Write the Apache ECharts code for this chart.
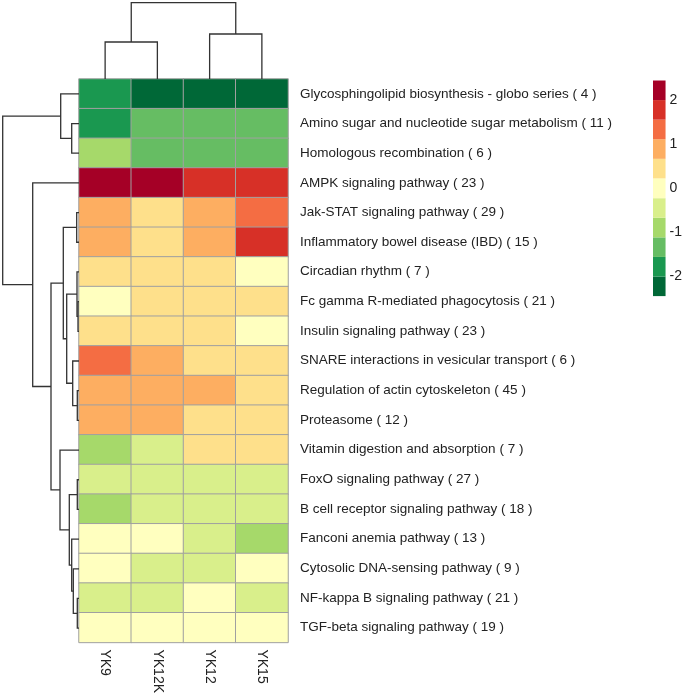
<!DOCTYPE html>
<html>
<head>
<meta charset="utf-8">
<script src="https://cdn.jsdelivr.net/npm/echarts@6/dist/echarts.min.js"></script>
<style>
  html, body { margin: 0; padding: 0; background: #fff; }
  #chart { width: 685px; height: 696px; }
</style>
</head>
<body>
<div id="chart"></div>
<script>
// 样本（列）与通路（行）
const samples = ["YK9", "YK12K", "YK12", "YK15"];
const pathways = [
  "Glycosphingolipid biosynthesis - globo series ( 4 )",
  "Amino sugar and nucleotide sugar metabolism ( 11 )",
  "Homologous recombination ( 6 )",
  "AMPK signaling pathway ( 23 )",
  "Jak-STAT signaling pathway ( 29 )",
  "Inflammatory bowel disease (IBD) ( 15 )",
  "Circadian rhythm ( 7 )",
  "Fc gamma R-mediated phagocytosis ( 21 )",
  "Insulin signaling pathway ( 23 )",
  "SNARE interactions in vesicular transport ( 6 )",
  "Regulation of actin cytoskeleton ( 45 )",
  "Proteasome ( 12 )",
  "Vitamin digestion and absorption ( 7 )",
  "FoxO signaling pathway ( 27 )",
  "B cell receptor signaling pathway ( 18 )",
  "Fanconi anemia pathway ( 13 )",
  "Cytosolic DNA-sensing pathway ( 9 )",
  "NF-kappa B signaling pathway ( 21 )",
  "TGF-beta signaling pathway ( 19 )"
];

// 每行数值：YK9, YK12K, YK12, YK15
const values = [
  [-1.8, -2.3, -2.3, -2.3],
  [-1.9, -1.3, -1.3, -1.3],
  [-0.9, -1.3, -1.3, -1.3],
  [2.3, 2.3, 1.8, 1.8],
  [0.9, 0.4, 0.9, 1.4],
  [0.9, 0.4, 0.9, 1.8],
  [0.4, 0.4, 0.4, 0.1],
  [0.1, 0.4, 0.4, 0.4],
  [0.4, 0.4, 0.4, 0.1],
  [1.4, 0.9, 0.4, 0.4],
  [0.9, 0.9, 0.9, 0.4],
  [0.9, 0.9, 0.4, 0.4],
  [-0.9, -0.5, 0.4, 0.4],
  [-0.5, -0.5, -0.5, -0.5],
  [-0.9, -0.5, -0.5, -0.5],
  [0, 0, -0.5, -0.9],
  [0, -0.5, -0.5, 0],
  [-0.5, -0.5, 0, -0.5],
  [0, 0, 0, 0]
];

// 色标分段
const breaks = [-2.45, -2.005, -1.56, -1.115, -0.67, -0.225, 0.225, 0.67, 1.115, 1.56, 2.005, 2.45];
const colors = ["#006837", "#1a9850", "#66bd63", "#a6d96a", "#d9ef8b", "#ffffbf",
                "#fee08b", "#fdae61", "#f46d43", "#d73027", "#a50026"];
const legendTicks = [-2, -1, 0, 1, 2];

// 聚类树：[子节点a, 子节点b, 高度]，叶子为 0..n-1，合并节点为 n+k
const rowMerges = [
  [1, 2, 7.3], [0, 19, 18.3], [4, 5, 2.3], [7, 8, 1.0], [6, 22, 2.0],
  [10, 11, 1.7], [9, 24, 6.3], [23, 25, 12.3], [21, 26, 15.7], [13, 14, 1.7],
  [17, 18, 1.7], [16, 29, 5.7], [15, 30, 7.3], [28, 31, 9.7], [12, 32, 19],
  [27, 33, 28], [3, 34, 46.3], [20, 35, 76.3]
];
const colMerges = [[0, 1, 37], [2, 3, 45], [4, 5, 76.3]];

// 把合并记录转成 [位置a, 高度a, 位置b, 高度b, 高度]
function treeSegments(merges, n) {
  const pos = [], hgt = [];
  for (let i = 0; i < n; i++) { pos[i] = i; hgt[i] = 0; }
  return merges.map((m, k) => {
    const a = m[0], b = m[1];
    pos[n + k] = (pos[a] + pos[b]) / 2;
    hgt[n + k] = m[2];
    return [pos[a], hgt[a], pos[b], hgt[b], m[2]];
  });
}

const heatData = [];
values.forEach((row, r) => row.forEach((v, c) => heatData.push([c, r, v])));

const pieces = colors.map((c, i) => ({ gte: breaks[i], lt: breaks[i + 1], color: c }));
pieces[pieces.length - 1].lte = breaks[breaks.length - 1];
delete pieces[pieces.length - 1].lt;

const legendData = colors.map((c, i) => [breaks[i], breaks[i + 1], i]);

const lineColor = "#333";
const font = "Liberation Sans, Arial, Helvetica, sans-serif";

const option = {
  animation: false,
  backgroundColor: "#fff",
  grid: [
    { left: 79, top: 79, width: 209, height: 564 },   // 热图
    { left: 79, top: 2.7, width: 209, height: 76.3 }, // 列聚类树
    { left: 2.7, top: 79, width: 76.3, height: 564 }, // 行聚类树
    { left: 653, top: 80.5, width: 15, height: 215.6 } // 色标
  ],
  xAxis: [
    {
      gridIndex: 0, type: "category", data: samples, position: "bottom",
      axisLine: { show: false }, axisTick: { show: false }, splitLine: { show: false },
      axisLabel: { rotate: -90, margin: 7, fontSize: 14, color: "#222", fontFamily: font }
    },
    { gridIndex: 1, type: "value", min: -0.5, max: 3.5, show: false },
    { gridIndex: 2, type: "value", min: 0, max: 76.3, inverse: true, show: false },
    { gridIndex: 3, type: "value", min: 0, max: 1, show: false }
  ],
  yAxis: [
    {
      gridIndex: 0, type: "category", data: pathways, inverse: true, position: "right",
      axisLine: { show: false }, axisTick: { show: false }, splitLine: { show: false },
      axisLabel: { margin: 12, fontSize: 13.5, color: "#222", fontFamily: font, align: "left" }
    },
    { gridIndex: 1, type: "value", min: 0, max: 76.3, show: false },
    { gridIndex: 2, type: "value", min: -0.5, max: 18.5, inverse: true, show: false },
    {
      gridIndex: 3, type: "value", min: breaks[0], max: breaks[breaks.length - 1], position: "right",
      axisLine: { show: false }, axisTick: { show: false }, splitLine: { show: false },
      axisLabel: { customValues: legendTicks, margin: 4, fontSize: 14, color: "#222", fontFamily: font }
    }
  ],
  visualMap: {
    type: "piecewise", show: false, seriesIndex: 0, dimension: 2, pieces: pieces
  },
  series: [
    {
      type: "heatmap", xAxisIndex: 0, yAxisIndex: 0, data: heatData,
      itemStyle: { borderColor: "#a0a0a0", borderWidth: 1 }
    },
    {
      type: "custom", xAxisIndex: 1, yAxisIndex: 1, clip: false,
      data: treeSegments(colMerges, samples.length),
      renderItem: function (params, api) {
        const pts = [
          api.coord([api.value(0), api.value(1)]),
          api.coord([api.value(0), api.value(4)]),
          api.coord([api.value(2), api.value(4)]),
          api.coord([api.value(2), api.value(3)])
        ];
        return { type: "polyline", shape: { points: pts }, style: { stroke: lineColor, lineWidth: 1.3, fill: null } };
      }
    },
    {
      type: "custom", xAxisIndex: 2, yAxisIndex: 2, clip: false,
      data: treeSegments(rowMerges, pathways.length),
      renderItem: function (params, api) {
        const pts = [
          api.coord([api.value(1), api.value(0)]),
          api.coord([api.value(4), api.value(0)]),
          api.coord([api.value(4), api.value(2)]),
          api.coord([api.value(3), api.value(2)])
        ];
        return { type: "polyline", shape: { points: pts }, style: { stroke: lineColor, lineWidth: 1.3, fill: null } };
      }
    },
    {
      type: "custom", xAxisIndex: 3, yAxisIndex: 3, clip: false,
      data: legendData,
      renderItem: function (params, api) {
        const p1 = api.coord([0, api.value(1)]);
        const p2 = api.coord([1, api.value(0)]);
        return {
          type: "rect",
          shape: { x: p1[0], y: p1[1], width: p2[0] - p1[0], height: p2[1] - p1[1] },
          style: { fill: colors[api.value(2)] }
        };
      }
    }
  ]
};

const chart = echarts.init(document.getElementById("chart"));
chart.setOption(option);
</script>
</body>
</html>
